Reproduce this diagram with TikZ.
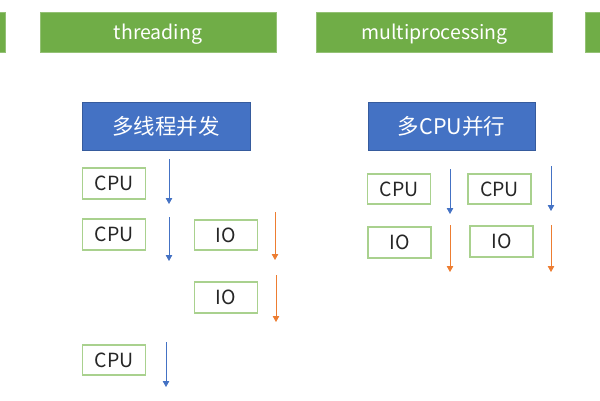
\documentclass[tikz,border=0pt]{standalone}
\usepackage{fontspec}
\setmainfont{Noto Sans CJK SC}
\usetikzlibrary{arrows.meta}
\definecolor{hdrgreen}{HTML}{70AD47}
\definecolor{boxgreen}{HTML}{A9D18E}
\definecolor{hdrblue}{HTML}{4472C4}
\definecolor{tlorange}{HTML}{ED7D31}
\definecolor{txtgray}{HTML}{262626}
\tikzset{
  header/.style={rectangle, fill=hdrgreen, draw=hdrgreen!75!white, line width=0.6pt,
    minimum width=236pt, minimum height=40pt, inner sep=0pt, text depth=0pt, text=white, font=\fontsize{19.5}{22}\selectfont},
  title/.style={rectangle, fill=hdrblue, draw=hdrblue!80!black, line width=0.6pt,
    minimum width=168pt, minimum height=48pt, inner sep=0pt, text=white, font=\fontsize{21.5}{24}\selectfont},
  task/.style={rectangle, draw=boxgreen, line width=1.3pt, fill=white,
    minimum width=63pt, minimum height=30pt, inner sep=0pt, text=txtgray, font=\fontsize{19.5}{22}\selectfont},
  cpuline/.style={draw=hdrblue, line width=0.9pt, -{Triangle[length=6pt,width=6.5pt]}},
  ioline/.style={draw=tlorange, line width=0.9pt, -{Triangle[length=6pt,width=6.5pt]}}
}
\begin{document}
\begin{tikzpicture}[x=1pt,y=-1pt]
\useasboundingbox (0,0) rectangle (600,400);
\clip (0,0) rectangle (600,400);
\fill[white] (0,0) rectangle (600,400);
% headers
\node[header] (hleft) at (-112.5,32) {};
\node[header] (hthread) at (158,32) {threading};
\node[header] (hmulti) at (434.5,32) {multiprocessing};
\node[header] (hright) at (703.5,32) {};
% titles
\node[title] (tthread) at (166,126) {多线程并发};
\node[title, minimum width=167pt] (tmulti) at (451.5,126) {多CPU并行};
% threading tasks
\node[task, minimum height=31pt] (cpu1) at (114,183.5) {CPU};
\node[task, minimum height=31pt] (cpu2) at (114,234.5) {CPU};
\node[task] (io1) at (226,235) {IO};
\node[task, minimum height=31pt] (io2) at (226,297.5) {IO};
\node[task] (cpu3) at (114,360) {CPU};
% multiprocessing tasks
\node[task] (mcpu1) at (399,189) {CPU};
\node[task] (mcpu2) at (499.5,189) {CPU};
\node[task, minimum height=31pt] (mio1) at (399.5,242.5) {IO};
\node[task, minimum height=31pt] (mio2) at (501.5,241.5) {IO};
% timeline ends
\coordinate (a1s) at (169,159); \coordinate (a1e) at (169,204);
\coordinate (a2s) at (169,217); \coordinate (a2e) at (169,261);
\coordinate (a3s) at (275,212); \coordinate (a3e) at (275,260);
\coordinate (a4s) at (276,275); \coordinate (a4e) at (276,322);
\coordinate (a5s) at (166,342); \coordinate (a5e) at (166,387);
\coordinate (b1s) at (450,169); \coordinate (b1e) at (450,214);
\coordinate (b2s) at (551,166); \coordinate (b2e) at (551,211);
\coordinate (b3s) at (450,225); \coordinate (b3e) at (450,272);
\coordinate (b4s) at (551,225); \coordinate (b4e) at (551,272);
\draw[cpuline] (a1s) -- (a1e);
\draw[cpuline] (a2s) -- (a2e);
\draw[ioline] (a3s) -- (a3e);
\draw[ioline] (a4s) -- (a4e);
\draw[cpuline] (a5s) -- (a5e);
\draw[cpuline] (b1s) -- (b1e);
\draw[cpuline] (b2s) -- (b2e);
\draw[ioline] (b3s) -- (b3e);
\draw[ioline] (b4s) -- (b4e);
\end{tikzpicture}
\end{document}
